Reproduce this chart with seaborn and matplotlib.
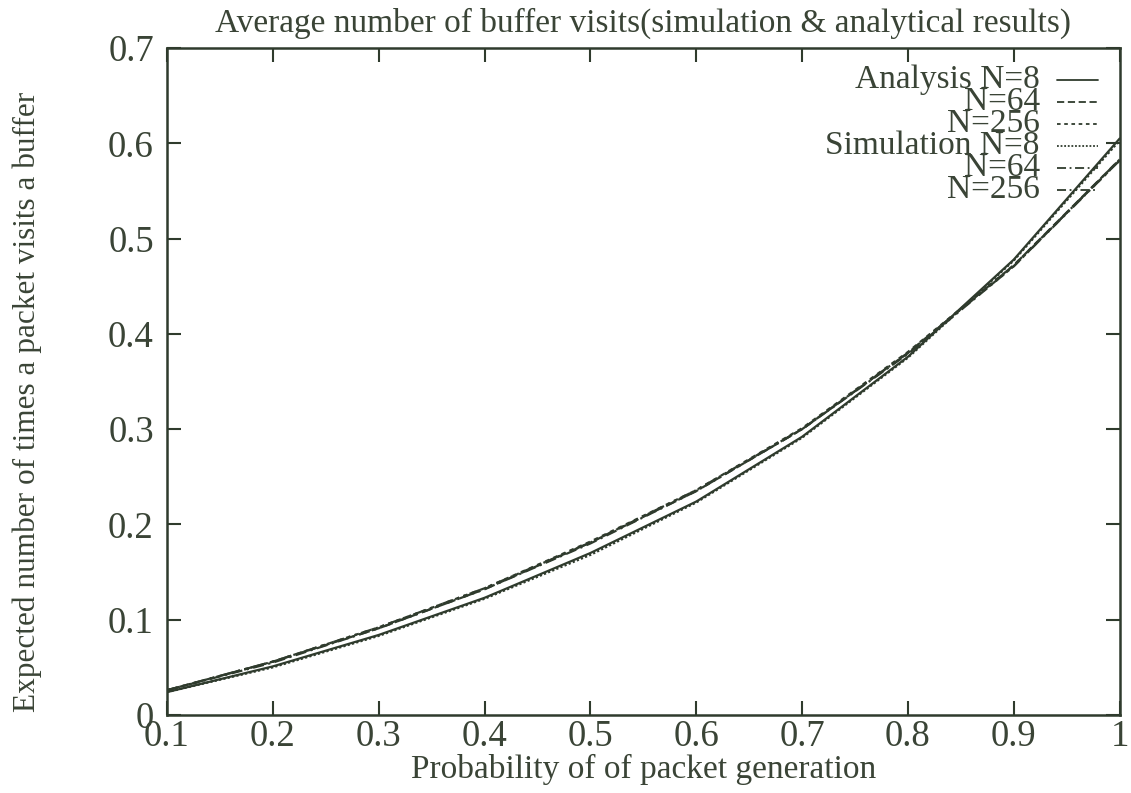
import matplotlib
matplotlib.use("Agg")
import matplotlib.pyplot as plt
import seaborn as sns
import pandas as pd

# ---- data ----
x_vals = [0.1, 0.2, 0.3, 0.4, 0.5, 0.6, 0.7, 0.8, 0.9, 1.0]
analysis_n8 = [0.024, 0.051, 0.084, 0.123, 0.170, 0.224, 0.292, 0.376, 0.478, 0.605]
analysis_n64 = [0.026, 0.056, 0.091, 0.132, 0.181, 0.235, 0.300, 0.380, 0.472, 0.583]
analysis_n256 = [0.026, 0.056, 0.092, 0.133, 0.182, 0.236, 0.301, 0.381, 0.472, 0.582]
sim_n8 = [0.024, 0.050, 0.083, 0.122, 0.168, 0.223, 0.291, 0.375, 0.477, 0.603]
sim_n64 = [0.026, 0.055, 0.091, 0.132, 0.180, 0.235, 0.300, 0.379, 0.471, 0.583]
sim_n256 = [0.026, 0.056, 0.092, 0.133, 0.181, 0.236, 0.300, 0.380, 0.471, 0.582]

series_labels = ["Analysis N=8", "N=64", "N=256", "Simulation N=8", "N=64 ", "N=256 "]
series_values = [analysis_n8, analysis_n64, analysis_n256, sim_n8, sim_n64, sim_n256]
x_ticks = [0.1, 0.2, 0.3, 0.4, 0.5, 0.6, 0.7, 0.8, 0.9, 1.0]
x_ticklabels = ["0.1", "0.2", "0.3", "0.4", "0.5", "0.6", "0.7", "0.8", "0.9", "1"]
y_ticks = [0, 0.1, 0.2, 0.3, 0.4, 0.5, 0.6, 0.7]
y_ticklabels = ["0", "0.1", "0.2", "0.3", "0.4", "0.5", "0.6", "0.7"]

title = "Average number of buffer visits(simulation & analytical results)"
xlabel = "Probability of of packet generation"
ylabel = "Expected number of times a packet visits a buffer"

# ---- styling ----
sns.set_theme(style="white")
plt.rcParams["font.family"] = ["Liberation Serif", "DejaVu Serif"]
line_color = "#2f3b2d"
text_color = "#3a4436"
dash_styles = [(None, None), (4, 2), (2, 2), (1, 1), (5, 2, 1, 2), (5, 2, 1, 2, 1, 2)]

rows = []
for lab, vals in zip(series_labels, series_values):
    for xv, yv in zip(x_vals, vals):
        rows.append({"x": xv, "y": yv, "series": lab})
df = pd.DataFrame(rows)

fig = plt.figure(figsize=(11.31, 7.93), dpi=100)
ax = fig.add_axes([0.1477, 0.0984, 0.8423, 0.8411])

palette = {lab: line_color for lab in series_labels}
dashes = {lab: ds if ds[0] is not None else "" for lab, ds in zip(series_labels, dash_styles)}
sns.lineplot(data=df, x="x", y="y", hue="series", style="series", palette=palette,
             dashes=dashes, linewidth=1.6, legend=False, ax=ax, sort=True)

ax.set_xlim(0.1, 1.0)
ax.set_ylim(0, 0.7)
ax.set_xticks(x_ticks)
ax.set_xticklabels(x_ticklabels)
ax.set_yticks(y_ticks)
ax.set_yticklabels(y_ticklabels)
ax.tick_params(direction="in", length=10, width=1.5, colors=line_color,
               labelcolor=text_color, labelsize=26.5, top=True, right=True,
               bottom=True, left=True)
ax.tick_params(axis="y", pad=9.5)
ax.tick_params(axis="x", pad=3)
for s in ax.spines.values():
    s.set_color(line_color)
    s.set_linewidth(1.8)

ax.set_title(title, fontsize=24, color=text_color, pad=12)
ax.set_xlabel(xlabel, fontsize=24, color=text_color, labelpad=0)
ax.set_ylabel(ylabel, fontsize=22.5, color=text_color)
ax.yaxis.set_label_coords(-0.131, 0.469)

# gnuplot-style key: right-aligned text followed by a line sample
y0 = 0.952
dy = 0.033
for i, (lab, ds) in enumerate(zip(series_labels, dash_styles)):
    yy = y0 - i * dy
    ax.text(0.916, yy, lab.strip(), transform=ax.transAxes, ha="right", va="center",
            fontsize=24, color=text_color)
    ln, = ax.plot([0.934, 0.977], [yy, yy], transform=ax.transAxes, color=line_color,
                  linewidth=1.3)
    if ds[0] is not None:
        ln.set_dashes(ds)

fig.savefig("out.png", dpi=100)
